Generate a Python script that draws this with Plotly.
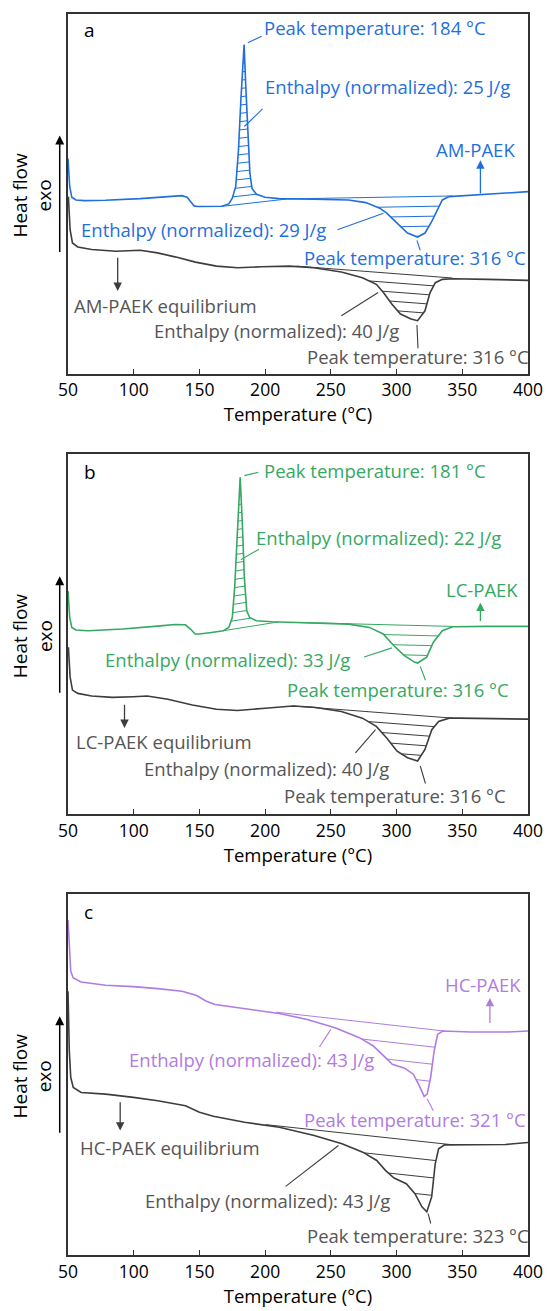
import numpy as np
import plotly.graph_objects as go

# ---------------------------------------------------------------- data
# DSC heat-flow traces (arbitrary units, exo up), temperature in degC

# (a) AM-PAEK as printed
temp_am = [50, 51.3, 52.9, 56, 62.7, 78.5, 105, 131, 136.6, 140.6, 143, 146, 148.5,
           157.8, 167, 172.3, 175, 177.6, 179.7, 181.5, 184, 185.2, 186.8, 188.4,
           190, 193.4, 200, 210.6, 237, 263.4, 276.6, 287.2, 292.5, 300.4, 308.3,
           316, 321.6, 326.8, 330.8, 334.8, 340, 348, 400]
hf_am = [65.0, 56.5, 53.3, 52.5, 52.3, 52.4, 52.9, 53.7, 53.8, 53.3, 52.0, 50.7, 50.5,
         50.5, 50.6, 51.3, 53.0, 56.5, 67.5, 82.5, 99.5, 87.5, 72.5, 60.5,
         56.0, 54.2, 53.3, 52.9, 52.7, 52.5, 51.7, 50.0, 48.5, 45.5, 42.5,
         41.3, 42.5, 46.0, 49.5, 52.5, 53.5, 53.7, 55.0]

# (a) AM-PAEK equilibrium
temp_am_eq = [50.3, 51.6, 53.4, 57.4, 68, 86.5, 105, 118, 131.4, 147, 163, 179, 197,
              218.5, 237, 258, 274, 284.6, 290, 296.5, 303, 311, 316, 321.6, 325.5,
              329.5, 334.8, 342.7, 369, 400]
hf_am_eq = [53.5, 43.5, 39.5, 38.3, 37.5, 37.0, 37.3, 36.5, 35.3, 33.7, 32.5, 32.0, 32.3,
            32.5, 32.0, 30.7, 29.0, 27.0, 24.5, 21.0, 18.0, 16.5, 16.0, 19.0, 24.5,
            27.5, 28.5, 28.7, 28.5, 28.2]

# (b) LC-PAEK as printed
temp_lc = [50, 51.3, 52.9, 56, 65.3, 91.7, 118, 131.4, 139.3, 143.2, 146.7, 149.8,
           157.8, 168.3, 172.3, 175, 176.8, 178.9, 181, 182.6, 184.2, 186, 188.2,
           193.4, 205.3, 223.8, 250, 263.4, 279.3, 289.8, 297.8, 305.7, 313.6, 316,
           322.9, 328, 334.8, 342.7, 369, 400]
hf_lc = [67.5, 59.5, 56.5, 55.7, 55.5, 56.0, 56.9, 57.4, 57.3, 56.0, 54.5, 54.5,
         54.9, 55.5, 56.5, 59.5, 68.5, 87.5, 102.0, 88.5, 71.5, 61.5, 59.5,
         58.5, 58.2, 58.0, 57.8, 57.5, 56.5, 54.5, 51.0, 48.0, 46.0, 45.7,
         47.5, 52.0, 55.5, 56.7, 56.8, 56.8]

# (b) LC-PAEK equilibrium
temp_lc_eq = [50.3, 51.6, 53.4, 57.4, 68, 83.8, 99.7, 110.2, 126, 144.6, 163, 179, 200,
              221, 237, 258, 274, 284.6, 292.5, 300.4, 308.3, 316, 321.6, 326.8, 332,
              340, 348, 400]
hf_lc_eq = [50.5, 41.5, 37.5, 36.5, 35.7, 35.3, 35.5, 35.7, 34.7, 33.0, 31.7, 31.3, 32.0,
            32.7, 32.3, 31.0, 29.0, 26.5, 23.0, 19.0, 17.0, 16.0, 19.5, 25.5, 28.0,
            29.0, 29.0, 28.7]

# (c) HC-PAEK as printed
temp_hc = [50, 51, 52.1, 54, 60, 78.6, 99.7, 118.3, 136.8, 147.4, 155.3, 161.9, 184.4,
           210.8, 232, 253.2, 271.7, 282.3, 290.2, 296.8, 306.1, 312.7, 316.7, 321,
           323.3, 325.9, 328.6, 331.2, 335.2, 356.3, 382.8, 400]
hf_hc = [101.0, 91.5, 85.5, 83.5, 82.3, 81.3, 80.9, 80.3, 79.5, 78.3, 76.5, 75.5, 74.3,
         72.8, 71.0, 68.5, 65.5, 63.0, 60.0, 57.5, 56.3, 54.5, 51.5, 47.8,
         48.5, 53.5, 61.5, 66.5, 67.5, 67.2, 67.2, 67.5]

# (c) HC-PAEK equilibrium
temp_hc_eq = [50, 51, 52.1, 54, 60, 78.6, 99.7, 118.3, 139.4, 150, 160.6, 184.4, 210.8,
              237.3, 258.5, 274.3, 284.9, 291.5, 298.1, 307.4, 314, 319.3, 323, 326.7,
              329.4, 332, 336.5, 356.3, 382.8, 400]
hf_hc_eq = [79.5, 61.5, 53.5, 50.5, 49.0, 48.5, 47.5, 46.5, 45.0, 43.0, 41.8, 40.0, 38.5,
            36.0, 33.5, 31.0, 28.5, 25.5, 23.2, 21.5, 18.5, 14.5, 13.0, 17.5,
            27.5, 32.0, 33.2, 33.2, 33.3, 33.9]

# integration baselines (start T, start HF, end T, end HF)
base_am_cryst = (165.7, 50.5, 217.0, 52.8)
base_am_melt = (217.0, 52.8, 342.7, 53.7)
base_am_eq_melt = (224.0, 32.5, 342.5, 28.9)
base_lc_cryst = (168.3, 55.5, 210.6, 58.2)
base_lc_melt = (224.0, 58.0, 342.7, 56.8)
base_lc_eq_melt = (221.0, 32.7, 342.7, 29.0)
base_hc_melt = (208.2, 73.2, 336.5, 67.5)
base_hc_eq_melt = (200.3, 39.3, 343.0, 33.2)

x_ticks = [50, 100, 150, 200, 250, 300, 350, 400]

# ---------------------------------------------------------------- styles
BLUE = "#1f6fdc"
GREEN = "#35a862"
PURPLE = "#b07ce2"
DARK = "#3d3d3d"
GREY_TXT = "#555555"
FONT = "Open Sans"
LABEL_SIZE = 18.5

fig = go.Figure()


def hatch(T, hf, base, step, sign):
    """Hatch segments parallel to the baseline inside a DSC peak."""
    t0, b0, t1, b1 = base
    grid = np.linspace(t0, t1, 3000)
    curve = np.interp(grid, T, hf)
    bl = b0 + (b1 - b0) * (grid - t0) / (t1 - t0)
    depth = sign * (curve - bl)
    xs, ys = [t0, t1, None], [b0, b1, None]
    k = 1
    while True:
        d = k * step
        inside = depth >= d
        if not inside.any():
            break
        i = j = int(np.argmax(depth))
        while i > 0 and inside[i - 1]:
            i -= 1
        while j < len(grid) - 1 and inside[j + 1]:
            j += 1
        xs += [grid[i], grid[j], None]
        ys += [bl[i] + sign * d, bl[j] + sign * d, None]
        k += 1
    return xs, ys


def add_curve(T, hf, color, ax):
    fig.add_trace(go.Scatter(x=T, y=hf, mode="lines", line=dict(color=color, width=1.6),
                             xaxis=f"x{ax}", yaxis=f"y{ax}", hoverinfo="skip"))


def add_hatch(T, hf, base, step, sign, color, ax):
    xs, ys = hatch(T, hf, base, step, sign)
    fig.add_trace(go.Scatter(x=xs, y=ys, mode="lines", line=dict(color=color, width=1.0),
                             xaxis=f"x{ax}", yaxis=f"y{ax}", hoverinfo="skip"))


def add_leaders(segs, color, ax):
    xs, ys = [], []
    for (xa, ya, xb, yb) in segs:
        xs += [xa, xb, None]
        ys += [ya, yb, None]
    fig.add_trace(go.Scatter(x=xs, y=ys, mode="lines", line=dict(color=color, width=1.1),
                             xaxis=f"x{ax}", yaxis=f"y{ax}", hoverinfo="skip"))


annotations = []


def label(text, x, y, color, ax, anchor="left", size=LABEL_SIZE):
    annotations.append(dict(text=text, x=x, y=y, xref=f"x{ax}", yref=f"y{ax}",
                            xanchor=anchor, yanchor="middle", showarrow=False,
                            font=dict(family=FONT, size=size, color=color)))


def arrow(x, y_tail, y_head, color, ax):
    annotations.append(dict(text="", x=x, y=y_head, ax=x, ay=y_tail,
                            xref=f"x{ax}", yref=f"y{ax}", axref=f"x{ax}", ayref=f"y{ax}",
                            showarrow=True, arrowhead=2, arrowsize=1.3, arrowwidth=1.3,
                            arrowcolor=color))


# ---------------------------------------------------------------- panel a
ax = ""
add_hatch(temp_am, hf_am, base_am_cryst, 2.5, 1, BLUE, ax)
add_hatch(temp_am, hf_am, base_am_melt, 3.0, -1, BLUE, ax)
add_hatch(temp_am_eq, hf_am_eq, base_am_eq_melt, 2.8, -1, DARK, ax)
add_curve(temp_am, hf_am, BLUE, ax)
add_curve(temp_am_eq, hf_am_eq, DARK, ax)
add_leaders([(186.8, 100, 197.4, 102), (184.2, 74.7, 198, 80),
             (255, 43.5, 290, 48.5), (315.5, 40.3, 318, 37.3)], BLUE, ax)
add_leaders([(258, 17.5, 286, 24.5), (315.5, 14.7, 316.3, 7.7)], DARK, ax)
label("Peak temperature: 184 °C", 197.9, 104.7, BLUE, ax)
label("Enthalpy (normalized): 25 J/g", 198.7, 86.7, BLUE, ax)
label("AM-PAEK", 392, 67.8, BLUE, ax, anchor="right")
label("Enthalpy (normalized): 29 J/g", 58, 43.7, BLUE, ax)
label("Peak temperature: 316 °C", 227.8, 35.2, BLUE, ax)
label("AM-PAEK equilibrium", 53.4, 20.5, GREY_TXT, ax)
label("Enthalpy (normalized): 40 J/g", 114.2, 13.0, GREY_TXT, ax)
label("Peak temperature: 316 °C", 230.4, 5.3, GREY_TXT, ax)
label("a", 61, 104, "black", ax, size=19)
arrow(363.8, 54, 64.5, BLUE, ax)
arrow(87.8, 35.5, 25, DARK, ax)

# ---------------------------------------------------------------- panel b
ax = "2"
add_hatch(temp_lc, hf_lc, base_lc_cryst, 2.5, 1, GREEN, ax)
add_hatch(temp_lc, hf_lc, base_lc_melt, 3.0, -1, GREEN, ax)
add_hatch(temp_lc_eq, hf_lc_eq, base_lc_eq_melt, 3.0, -1, DARK, ax)
add_curve(temp_lc, hf_lc, GREEN, ax)
add_curve(temp_lc_eq, hf_lc_eq, DARK, ax)
add_leaders([(184.2, 102.5, 194.8, 103.5), (181.5, 77, 195.3, 80.2),
             (275.3, 47.5, 296.5, 50.3), (318, 44.7, 322, 40.5)], GREEN, ax)
add_leaders([(268.7, 18.5, 284, 25.5), (318, 14.5, 322, 9.2)], DARK, ax)
label("Peak temperature: 181 °C", 197.9, 104, GREEN, ax)
label("Enthalpy (normalized): 22 J/g", 191.3, 83.7, GREEN, ax)
label("LC-PAEK", 394, 68, GREEN, ax, anchor="right")
label("Enthalpy (normalized): 33 J/g", 76.7, 46.7, GREEN, ax)
label("Peak temperature: 316 °C", 215, 37.7, GREEN, ax)
label("LC-PAEK equilibrium", 54.2, 22, GREY_TXT, ax)
label("Enthalpy (normalized): 40 J/g", 106.3, 13.8, GREY_TXT, ax)
label("Peak temperature: 316 °C", 212.5, 5.5, GREY_TXT, ax)
label("b", 61, 103.5, "black", ax, size=19)
arrow(363.8, 58, 64, GREEN, ax)
arrow(93, 33.5, 26, DARK, ax)

# ---------------------------------------------------------------- panel c
ax = "3"
add_hatch(temp_hc, hf_hc, base_hc_melt, 5.2, -1, PURPLE, ax)
add_hatch(temp_hc_eq, hf_hc_eq, base_hc_eq_melt, 5.3, -1, DARK, ax)
add_curve(temp_hc, hf_hc, PURPLE, ax)
add_curve(temp_hc_eq, hf_hc_eq, DARK, ax)
add_leaders([(241.3, 62.7, 250, 68), (323.3, 47, 328, 43.5)], PURPLE, ax)
add_leaders([(215.6, 20.7, 255.8, 33), (324, 12.5, 326, 9.5)], DARK, ax)
label("HC-PAEK", 396, 81.5, PURPLE, ax, anchor="right")
label("Enthalpy (normalized): 43 J/g", 95, 59, PURPLE, ax)
label("Peak temperature: 321 °C", 228.3, 40.7, PURPLE, ax)
label("HC-PAEK equilibrium", 57.9, 32.5, GREY_TXT, ax)
label("Enthalpy (normalized): 43 J/g", 107.1, 16.3, GREY_TXT, ax)
label("Peak temperature: 323 °C", 230.2, 6, GREY_TXT, ax)
label("c", 61, 103.5, "black", ax, size=19)
arrow(371, 69.5, 77.5, PURPLE, ax)
arrow(89.7, 46.5, 37.5, DARK, ax)

# y-axis caption and exo arrow beside each panel
for ax in ["", "2", "3"]:
    annotations.append(dict(text="Heat flow<br>exo", x=-0.077, y=54, xref="paper",
                            yref=f"y{ax}", textangle=-90, showarrow=False,
                            xanchor="center", yanchor="middle",
                            font=dict(family=FONT, size=19, color="black")))
    annotations.append(dict(text="", x=-0.018, y=72, ax=0, ay=118, xref="paper",
                            yref=f"y{ax}", showarrow=True, arrowhead=2, arrowsize=1.2,
                            arrowwidth=1.5, arrowcolor="black"))

# ---------------------------------------------------------------- layout
domains = {"": [0.7102, 1.0], "2": [0.3555, 0.6453], "3": [0.0, 0.2906]}
yranges = {"": [0, 108.7], "2": [0, 109.0], "3": [0, 108.7]}
layout = dict(width=555, height=1311, showlegend=False,
              margin=dict(l=68, r=18, t=13, b=49),
              plot_bgcolor="white", paper_bgcolor="white",
              font=dict(family=FONT, color="black"),
              annotations=annotations)
for ax in ["", "2", "3"]:
    layout[f"xaxis{ax}"] = dict(range=[50, 400], tickvals=x_ticks, ticks="inside",
                                ticklen=5, tickwidth=1.2, tickcolor="#333",
                                showline=True, linecolor="#333", linewidth=1.6,
                                mirror=True, showgrid=False, zeroline=False,
                                anchor=f"y{ax}",
                                tickfont=dict(family=FONT, size=17.5, color="black"),
                                title=dict(text="Temperature (°C)", standoff=3,
                                           font=dict(family=FONT, size=18.5, color="black")))
    layout[f"yaxis{ax}"] = dict(domain=domains[ax], range=yranges[ax], showticklabels=False,
                                ticks="", showline=True, linecolor="#333", linewidth=1.6,
                                mirror=True, showgrid=False, zeroline=False,
                                anchor=f"x{ax}")
fig.update_layout(**layout)

fig.write_html("out.html")
